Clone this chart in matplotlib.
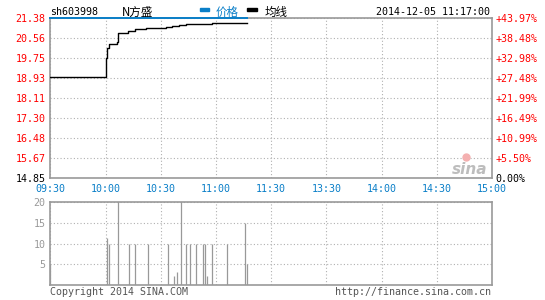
import matplotlib
matplotlib.use("Agg")
import matplotlib.pyplot as plt
from matplotlib.transforms import blended_transform_factory

# minute offsets from 09:30 (lunch break removed, 240 minutes in a day)
time_ticks = [0, 30, 60, 90, 120, 150, 180, 210, 240]
time_labels = ["09:30", "10:00", "10:30", "11:00", "11:30", "13:30", "14:00", "14:30", "15:00"]

price_ticks = [14.85, 15.67, 16.48, 17.30, 18.11, 18.93, 19.75, 20.56, 21.38]
pct_labels = ["0.00%", "+5.50%", "+10.99%", "+16.49%", "+21.99%",
              "+27.48%", "+32.98%", "+38.48%", "+43.97%"]

# price stuck at limit-up the whole morning
price_min = [0, 107]
price_val = [21.38, 21.38]

# average price line (change points)
avg_min = [0, 30, 31, 32, 36, 37, 42, 46, 52, 63, 66, 70, 74, 79, 88, 107]
avg_val = [19.00, 19.75, 20.16, 20.32, 20.40, 20.77, 20.86, 20.93, 20.97,
           21.01, 21.05, 21.09, 21.14, 21.16, 21.20, 21.20]

# volume bars
vol_min = [0, 31, 32, 37, 43, 46, 53, 64, 67, 69, 71, 74, 76, 79, 83, 84, 85, 88, 96, 106, 107]
vol_val = [5, 11.3, 10, 40, 10, 10, 10, 10, 2.3, 3.2, 40, 10, 10, 10, 10, 10, 2.3, 10, 10, 15, 5]
vol_ticks = [5, 10, 15, 20]

W, H = 545, 300
MONO = "DejaVu Sans Mono"
CJK = ["Noto Sans CJK SC", "DejaVu Sans"]
BLUE = "#0a7fc8"
GRID = "#b0b0b0"
EDGE = "#999999"
FS = 7.2

fig = plt.figure(figsize=(W / 100, H / 100), dpi=100)
fig.patch.set_facecolor("white")

ax = fig.add_axes([50.3 / W, 1 - 178.3 / H, 441.7 / W, 160 / H])
axv = fig.add_axes([50.3 / W, 1 - 285.3 / H, 441.7 / W, 83.6 / H])


def style_axes(a):
    for s in a.spines.values():
        s.set_color(EDGE)
        s.set_linewidth(1.2)
    a.tick_params(length=0)
    a.set_xlim(0, 240)
    a.set_xticks(time_ticks)
    a.grid(True, color=GRID, linestyle=(0, (1, 2)), linewidth=0.8)
    a.set_axisbelow(True)


# main price chart
style_axes(ax)
ax.set_ylim(price_ticks[0], price_ticks[-1])
ax.set_yticks(price_ticks)
ax.set_yticklabels([f"{p:.2f}" for p in price_ticks], fontfamily=MONO, fontsize=FS)
for i, t in enumerate(ax.get_yticklabels()):
    t.set_color("black" if i == 0 else "red")
ax.tick_params(axis="y", pad=3.3)
ax.set_xticklabels([])

ax.plot(avg_min, avg_val, color="black", linewidth=1.0, drawstyle="steps-post", zorder=3)
ax.plot(price_min, price_val, color=BLUE, linewidth=1.4, clip_on=False, zorder=5)

axr = ax.twinx()
axr.set_ylim(price_ticks[0], price_ticks[-1])
axr.set_yticks(price_ticks)
axr.set_yticklabels(pct_labels, fontfamily=MONO, fontsize=FS)
for i, t in enumerate(axr.get_yticklabels()):
    t.set_color("black" if i == 0 else "red")
axr.tick_params(length=0, pad=2.2)
for s in axr.spines.values():
    s.set_visible(False)

# time labels under the price chart
tr = blended_transform_factory(ax.transData, fig.transFigure)
for m, lab in zip(time_ticks, time_labels):
    ax.text(m, 1 - 189 / H, lab, transform=tr, ha="center", va="center",
            color=BLUE, fontfamily=MONO, fontsize=FS)

# volume chart
style_axes(axv)
axv.set_ylim(0, 20)
axv.set_yticks(vol_ticks)
axv.set_yticklabels([str(v) for v in vol_ticks], fontfamily=MONO, fontsize=FS, color=EDGE)
axv.tick_params(axis="y", pad=3.3)
axv.set_xticklabels([])
axv.vlines(vol_min, 0, vol_val, colors=EDGE, linewidth=0.9, zorder=3)

# header
fig.text(50 / W, 1 - 12 / H, "sh603998", fontfamily=MONO, fontsize=FS, va="center")
fig.text(122 / W, 1 - 12 / H, "N方盛", family=CJK, fontsize=8.3, va="center")
fig.patches.append(plt.Rectangle((200 / W, 1 - 11 / H), 9 / W, 2.8 / H,
                                 transform=fig.transFigure, color=BLUE))
fig.text(216 / W, 1 - 12 / H, "价格", family=CJK, fontsize=8.3, va="center", color=BLUE)
fig.patches.append(plt.Rectangle((247 / W, 1 - 11 / H), 10 / W, 2.8 / H,
                                 transform=fig.transFigure, color="black"))
fig.text(265 / W, 1 - 12 / H, "均线", family=CJK, fontsize=8.3, va="center")
fig.text(490 / W, 1 - 12 / H, "2014-12-05 11:17:00", fontfamily=MONO, fontsize=FS,
         va="center", ha="right")

# sina watermark
fig.text(470 / W, 1 - 170 / H, "sina", fontsize=11, fontweight="bold", style="italic",
         color="#bdbdbd", ha="center", va="center")
ax.plot([0.941], [0.135], transform=ax.transAxes, marker="o", markersize=5,
        color="#f4b0b0", zorder=2)

# footer
fig.text(50 / W, 1 - 292 / H, "Copyright 2014 SINA.COM", fontfamily=MONO, fontsize=FS,
         va="center", color="#555555")
fig.text(491 / W, 1 - 292 / H, "http://finance.sina.com.cn", fontfamily=MONO, fontsize=FS,
         va="center", ha="right", color="#555555")

fig.savefig("out.png", dpi=100)
